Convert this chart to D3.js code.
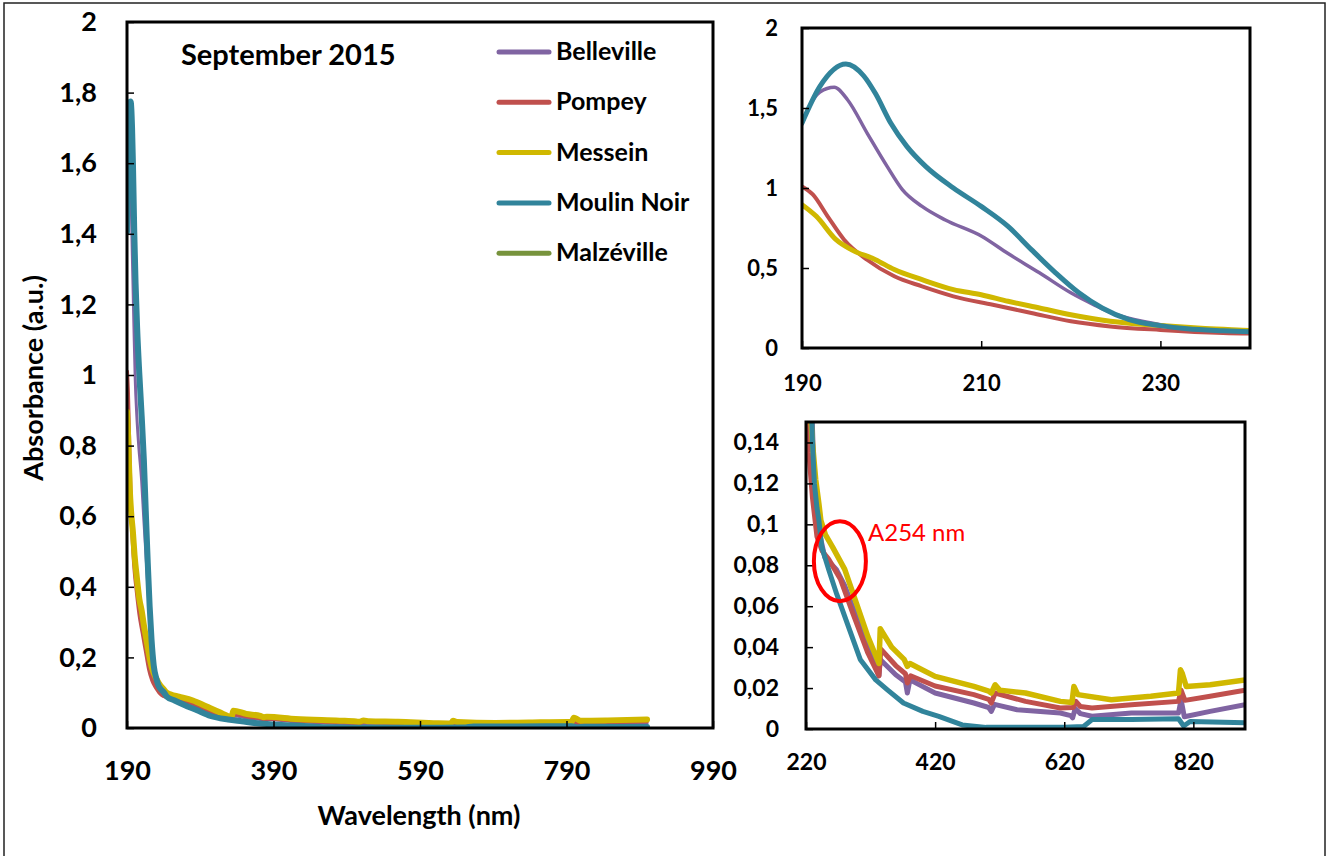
<!DOCTYPE html>
<html>
<head>
<meta charset="utf-8">
<script src="https://cdn.jsdelivr.net/npm/d3@7"></script>
<style>
  body { margin: 0; background: #fff; }
  svg { display: block; font-family: Lato, "Open Sans", sans-serif; }
</style>
</head>
<body>
<div id="box"></div>
<script>
// absorbance spectra, [wavelength nm, absorbance a.u.]
var belleville = [[190,1.40],[191,1.53],[192,1.60],[193.6,1.63],[195.1,1.55],[197.3,1.34],[199.5,1.135],[201.2,0.99],[203.4,0.885],[206,0.80],[210,0.70],[213,0.59],[216.5,0.47],[220,0.345],[222.6,0.27],[225,0.21],[228.7,0.16],[232,0.128],[236,0.108],[240,0.097],[249,0.084],[267,0.078],[280,0.07],[298,0.055],[316,0.040],[333,0.026],[335,0.034],[359,0.0265],[374,0.023],[377,0.0176],[381,0.024],[420,0.0176],[480,0.0127],[503,0.0105],[507,0.0086],[512,0.012],[547,0.0094],[614,0.0078],[630,0.0065],[633,0.0054],[637,0.010],[645,0.0075],[663,0.0062],[724,0.0078],[797,0.0078],[801,0.0143],[806,0.006],[846,0.0086],[900,0.0119]];
var pompey = [[190,1.01],[191.2,0.96],[192.9,0.82],[194.7,0.677],[197.3,0.55],[200.3,0.448],[203.4,0.385],[206.9,0.323],[211.3,0.27],[215.6,0.219],[220,0.167],[224.4,0.135],[230,0.113],[237,0.094],[245,0.087],[255,0.083],[273.6,0.073],[292,0.057],[316,0.037],[333,0.026],[336,0.039],[359,0.031],[374,0.027],[377,0.0225],[382,0.026],[420,0.021],[480,0.0168],[503,0.0145],[507,0.0127],[513,0.0176],[560,0.0135],[614,0.0103],[634,0.0105],[638,0.0135],[645,0.011],[663,0.0103],[724,0.0119],[797,0.0135],[801,0.019],[807,0.014],[846,0.016],[900,0.019]];
var messein = [[190,0.896],[191.6,0.823],[193.8,0.677],[195.5,0.615],[198.2,0.552],[200.3,0.49],[203.4,0.427],[206.9,0.365],[210,0.333],[213,0.292],[216.5,0.25],[220,0.208],[224.4,0.167],[230,0.14],[235,0.122],[240,0.11],[243,0.102],[250,0.095],[261,0.089],[280,0.078],[298,0.0615],[316,0.045],[333,0.032],[335,0.049],[352.7,0.040],[372,0.034],[377,0.0306],[381,0.032],[420,0.0257],[480,0.0208],[503,0.0185],[507,0.0176],[513,0.0216],[520,0.019],[560,0.0176],[614,0.0135],[632,0.013],[635,0.0208],[641,0.0168],[693,0.0143],[754,0.016],[797,0.0176],[800,0.029],[803,0.027],[809,0.0208],[846,0.0216],[900,0.024]];
var moulinNoir = [[190,1.406],[192,1.635],[194.9,1.775],[196.9,1.70],[198.2,1.59],[199.9,1.406],[201.7,1.26],[203.8,1.135],[206.9,1.0],[210,0.885],[213,0.76],[215.6,0.615],[218.3,0.47],[220.9,0.345],[223.5,0.25],[226.5,0.177],[230,0.14],[233,0.12],[237,0.108],[240,0.102],[244.3,0.089],[255,0.078],[267.5,0.066],[285.7,0.05],[304,0.034],[328,0.024],[346.6,0.019],[371,0.0127],[401,0.0086],[425.7,0.0062],[462,0.002],[499,0.0008],[560,0.0008],[620,0.0008],[650,0.0012],[663,0.0046],[724,0.0046],[797,0.005],[805,0.0015],[815,0.0037],[900,0.003]];
var malzeville = []; // only in the legend

var seriesNames = ["Belleville", "Pompey", "Messein", "Moulin Noir", "Malzéville"];
var seriesData = [belleville, pompey, messein, moulinNoir, malzeville];
var seriesColors = ["#8064a2", "#c0504d", "#d0b800", "#31849b", "#77933c"];

var mainXTicks = [190, 390, 590, 790, 990];
var mainYTicks = [0, 0.2, 0.4, 0.6, 0.8, 1, 1.2, 1.4, 1.6, 1.8, 2];
var topXTicks = [190, 210, 230];
var topYTicks = [0, 0.5, 1, 1.5, 2];
var lowXTicks = [220, 420, 620, 820];
var lowYTicks = [0, 0.02, 0.04, 0.06, 0.08, 0.1, 0.12, 0.14];

var fr = d3.formatLocale({decimal: ",", thousands: " ", grouping: [3], currency: ["", ""]});
var fmt = fr.format(".2~f");

var svg = d3.select("#box").append("svg")
    .attr("width", 1331)
    .attr("height", 856);

svg.append("rect")
    .attr("x", 4).attr("y", 3).attr("width", 1321).attr("height", 870)
    .attr("fill", "none").attr("stroke", "#222").attr("stroke-width", 1.5);

var panels = [
    {id: "main", x0: 127, x1: 713, y0: 22, y1: 728, xDom: [190, 990], yDom: [0, 2],
     xTicks: mainXTicks, yTicks: mainYTicks, font: 27, xPad: 33, yPad: 30,
     widths: [3, 4, 6, 6, 4], curve: d3.curveMonotoneX},
    {id: "top", x0: 802, x1: 1250, y0: 28, y1: 348, xDom: [190, 240], yDom: [0, 2],
     xTicks: topXTicks, yTicks: topYTicks, font: 22, xPad: 27, yPad: 24,
     widths: [3.5, 4, 5, 5, 4], curve: d3.curveMonotoneX},
    {id: "low", x0: 806, x1: 1245, y0: 422, y1: 729, xDom: [220, 900], yDom: [0, 0.15],
     xTicks: lowXTicks, yTicks: lowYTicks, font: 23, xPad: 25, yPad: 27,
     widths: [5, 5, 5.5, 5, 4], curve: d3.curveLinear}
];

panels.forEach(function(p) {
    var x = d3.scaleLinear().domain(p.xDom).range([p.x0, p.x1]);
    var y = d3.scaleLinear().domain(p.yDom).range([p.y1, p.y0]);
    p.x = x; p.y = y;

    svg.append("clipPath").attr("id", "clip-" + p.id)
        .append("rect")
        .attr("x", p.x0).attr("y", p.y0)
        .attr("width", p.x1 - p.x0).attr("height", p.y1 - p.y0);

    var line = d3.line()
        .curve(p.curve)
        .x(function(d) { return x(d[0]); })
        .y(function(d) { return y(d[1]); });

    var g = svg.append("g").attr("clip-path", "url(#clip-" + p.id + ")");
    seriesData.forEach(function(s, i) {
        if (!s.length) return;
        g.append("path")
            .attr("d", line(s))
            .attr("fill", "none")
            .attr("stroke", seriesColors[i])
            .attr("stroke-width", p.widths[i])
            .attr("stroke-linejoin", "round")
            .attr("stroke-linecap", "round");
    });

    var xa = svg.append("g")
        .attr("transform", "translate(0," + p.y1 + ")")
        .call(d3.axisBottom(x).tickValues(p.xTicks).tickFormat(fmt)
            .tickSizeInner(-7).tickSizeOuter(0).tickPadding(p.xPad));
    var ya = svg.append("g")
        .attr("transform", "translate(" + p.x0 + ",0)")
        .call(d3.axisLeft(y).tickValues(p.yTicks).tickFormat(fmt)
            .tickSizeInner(-7).tickSizeOuter(0).tickPadding(p.yPad));
    [xa, ya].forEach(function(a) {
        a.select(".domain").remove();
        a.selectAll("line").attr("stroke", "#000").attr("stroke-width", 1.5);
        a.selectAll("text")
            .attr("fill", "#000")
            .style("font-family", "Lato, sans-serif")
            .style("font-weight", "bold")
            .style("font-size", p.font + "px");
    });

    svg.append("rect")
        .attr("x", p.x0).attr("y", p.y0)
        .attr("width", p.x1 - p.x0).attr("height", p.y1 - p.y0)
        .attr("fill", "none").attr("stroke", "#000").attr("stroke-width", 3);
});

// titles
svg.append("text")
    .attr("x", 181).attr("y", 65)
    .style("font-size", "29px").style("font-weight", "bold")
    .text("September 2015");

svg.append("text")
    .attr("x", 419).attr("y", 825)
    .attr("text-anchor", "middle")
    .style("font-size", "27px").style("font-weight", "bold")
    .text("Wavelength (nm)");

svg.append("text")
    .attr("transform", "translate(43,378) rotate(-90)")
    .attr("text-anchor", "middle")
    .style("font-size", "27px").style("font-weight", "bold")
    .text("Absorbance (a.u.)");

// legend
var legend = svg.append("g");
seriesNames.forEach(function(name, i) {
    var ly = 52 + i * 50.3;
    legend.append("line")
        .attr("x1", 499).attr("x2", 549)
        .attr("y1", ly).attr("y2", ly)
        .attr("stroke", seriesColors[i])
        .attr("stroke-width", 5)
        .attr("stroke-linecap", "round");
    legend.append("text")
        .attr("x", 556).attr("y", ly + 8)
        .style("font-size", "25px").style("font-weight", "bold")
        .text(name);
});

// A254 annotation on the lower panel
var low = panels[2];
svg.append("ellipse")
    .attr("cx", low.x(272.5)).attr("cy", low.y(0.082))
    .attr("rx", 26).attr("ry", 40)
    .attr("fill", "none").attr("stroke", "#ff0000").attr("stroke-width", 4);
svg.append("text")
    .attr("x", low.x(316)).attr("y", low.y(0.0958) + 8)
    .attr("fill", "#ff0000")
    .style("font-size", "24px")
    .text("A254 nm");
</script>
</body>
</html>
